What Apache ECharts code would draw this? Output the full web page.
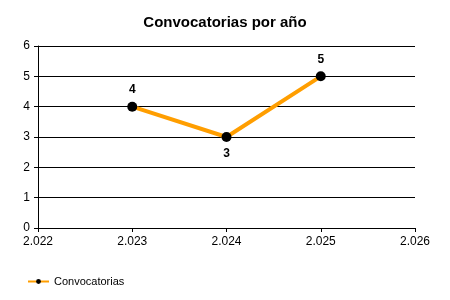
<!DOCTYPE html>
<html><head><meta charset="utf-8">
<script src="https://cdn.jsdelivr.net/npm/echarts@6/dist/echarts.min.js"></script>
<style>html,body{margin:0;padding:0;background:#fff}#c{width:450px;height:300px}</style>
</head><body><div id="c"></div>
<script>
var years = [2023, 2024, 2025];
var counts = [4, 3, 5];
var labelPos = ['top', 'bottom', 'top'];
var seriesName = 'Convocatorias';
var titleText = 'Convocatorias por año';

function fmt(v){ var s = String(v); return s.length > 3 ? s.slice(0, s.length-3) + '.' + s.slice(-3) : s; }

var chart = echarts.init(document.getElementById('c'), null, {renderer:'canvas'});
var font = 'Arial, "Liberation Sans", sans-serif';
chart.setOption({
  animation: false,
  title: { text: titleText, left: 'center', top: 10,
    textStyle: { fontFamily: font, fontSize: 15, fontWeight: 'bold', color: '#000' } },
  grid: { left: 38, right: 35, top: 46, bottom: 72 },
  legend: { left: 22, top: 271, itemWidth: 21, itemHeight: 6, itemGap: 6,
    textStyle: { fontFamily: font, fontSize: 11, color: '#000' },
    data: [seriesName] },
  xAxis: { type: 'value', min: 2022, max: 2026, interval: 1,
    axisLine: { show: true, lineStyle: { color: '#000', width: 1 } },
    axisTick: { show: true, length: 4, lineStyle: { color: '#000' } },
    splitLine: { show: false },
    axisLabel: { formatter: fmt, fontFamily: font, fontSize: 12, color: '#000', margin: 8 } },
  yAxis: { type: 'value', min: 0, max: 6, interval: 1,
    axisLine: { show: true, lineStyle: { color: '#000', width: 1 } },
    axisTick: { show: true, length: 4, lineStyle: { color: '#000' } },
    splitLine: { show: true, lineStyle: { color: '#000', width: 1 } },
    axisLabel: { fontFamily: font, fontSize: 12, color: '#000', margin: 8 } },
  series: [{
    name: seriesName, type: 'line',
    data: years.map(function(y, i){ return { value: [y, counts[i]], label: { position: labelPos[i] } }; }),
    symbol: 'circle', symbolSize: 10,
    lineStyle: { color: '#FF9E00', width: 4 },
    itemStyle: { color: '#000' },
    label: { show: true, fontFamily: font, fontSize: 12, fontWeight: 'bold', color: '#000', distance: 6,
      formatter: function(p){ return p.value[1]; } }
  }]
});
</script></body></html>
